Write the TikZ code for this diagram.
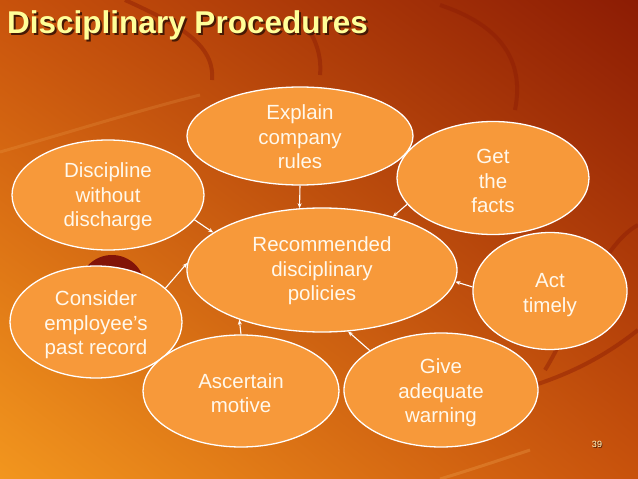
\documentclass[tikz,border=0pt]{standalone}
\usepackage{fontspec}
\setmainfont{Liberation Sans}
\usetikzlibrary{shapes.geometric,arrows.meta,shadings}
\definecolor{bgdark}{RGB}{140,28,4}
\definecolor{bgmid}{RGB}{200,82,12}
\definecolor{bglight}{RGB}{242,150,30}
\definecolor{bubfill}{RGB}{247,153,58}
\definecolor{titlecol}{RGB}{255,255,153}
\definecolor{shadowcol}{RGB}{70,25,5}
\definecolor{blobcol}{RGB}{130,20,8}
\definecolor{txtcol}{RGB}{255,248,236}
\tikzset{
  bub/.style={ellipse, draw=white, fill=bubfill, line width=1.3pt, inner sep=0pt},
  bubtext/.style={text=txtcol, align=center, font=\fontsize{20.5}{24.5}\selectfont},
  conn/.style={draw=white, line width=1.1pt, -{Stealth[length=5pt,width=4pt]}},
  deco/.style={line width=4pt, draw=bgdark, opacity=0.45}
}
\newcommand{\shadowtext}[3]{\makebox[0pt][l]{\hspace{#1}\raisebox{-#1}{\textcolor{shadowcol}{#3}}}\textcolor{#2}{#3}}
\begin{document}
\begin{tikzpicture}[x=1pt,y=-1pt]
\useasboundingbox (0,0) rectangle (638,479);
% background
\shade[lower left=bglight, upper right=bgdark, lower right=bgmid, upper left=bgmid] (0,0) rectangle (638,479);
\begin{scope}
\clip (0,0) rectangle (638,479);
\draw[deco] (125,0) .. controls (180,25) and (215,45) .. (212,80);
\draw[deco] (300,18) .. controls (315,35) and (322,55) .. (320,75);
\draw[deco] (440,5) .. controls (500,25) and (525,60) .. (515,110);
\draw[deco] (638,225) .. controls (600,245) and (570,330) .. (545,370);
\draw[deco] (638,330) .. controls (600,360) and (560,380) .. (500,395);
\draw[line width=3pt, draw=bglight!70!white, opacity=0.18] (0,152) .. controls (60,135) and (140,110) .. (200,95);
\draw[line width=3pt, draw=bglight!70!white, opacity=0.25] (440,479) .. controls (470,470) and (500,460) .. (530,450);
\fill[blobcol] (112,288) circle (33);
\end{scope}
% title
\node[anchor=base west, inner sep=0pt, font=\bfseries\fontsize{31.5}{36}\selectfont] (title) at (7,33) {\shadowtext{2pt}{titlecol}{Disciplinary Procedures}};
% bubbles
\node[bub, minimum width=270pt, minimum height=124pt, label={[bubtext, yshift=-1pt]center:Recommended\\disciplinary\\policies}] (rec) at (322,270) {};
\node[bub, minimum width=226pt, minimum height=98pt, label={[bubtext, yshift=-1pt]center:Explain\\company\\rules}] (exp) at (300,136) {};
\node[bub, minimum width=192pt, minimum height=113pt, label={[bubtext, yshift=-3pt]center:Get\\the\\facts}] (facts) at (493,178) {};
\node[bub, minimum width=192pt, minimum height=110pt, label={[bubtext, yshift=-2pt]center:Discipline\\without\\discharge}] (dis) at (108,195) {};
\node[bub, minimum width=154pt, minimum height=117pt, label={[bubtext, yshift=-4pt]center:Act\\timely}] (act) at (550,291) {};
\node[bub, minimum width=172pt, minimum height=112pt, label={[bubtext, yshift=-3pt]center:Consider\\employee’s\\past record}] (con) at (96,322) {};
\node[bub, minimum width=196pt, minimum height=112pt, label={[bubtext, yshift=-2pt]center:Ascertain\\motive}] (asc) at (241,391) {};
\node[bub, minimum width=194pt, minimum height=114pt, label={[bubtext, yshift=-3pt]center:Give\\adequate\\warning}] (give) at (441,390) {};
% connectors
\draw[conn] (exp.south) -- (rec.110);
\draw[conn] (facts.197) -- (rec.37.5);
\draw[conn] (dis.-16) -- (rec.161);
\draw[conn] (con.26) -- (rec.177);
\draw[conn] (asc.north) -- (rec.211.5);
\draw[conn] (give.151) -- (rec.-67);
\draw[conn] (act.177) -- (rec.-5);
% page number
\node[inner sep=0pt, font=\fontsize{9}{10}\selectfont] (pg) at (597,445) {\shadowtext{0.8pt}{titlecol!50!white}{39}};
\end{tikzpicture}
\end{document}
